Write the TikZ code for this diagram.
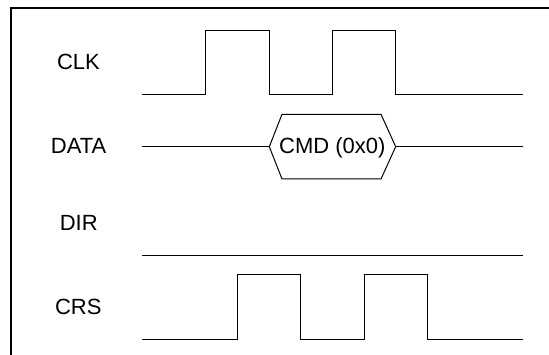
\documentclass[tikz,border=0pt]{standalone}
\usepackage{fontspec}
\setmainfont{Liberation Sans}
\begin{document}
\begin{tikzpicture}[x=1pt,y=-1pt,
  lbl/.style={font=\fontsize{22}{26}\selectfont, inner sep=0pt, anchor=base},
  wave/.style={line width=1pt, line join=miter, line cap=butt},
  frameline/.style={line width=2pt}]
\useasboundingbox (0,0) rectangle (549,355);
% frame (only left and top edges visible)
\coordinate (fbl) at (11,358);
\coordinate (ftl) at (11,8);
\coordinate (ftr) at (552,8);
\draw[frameline] (fbl) -- (ftl) -- (ftr);
% labels
\node[lbl] (clk) at (78.5,70) {CLK};
\node[lbl] (data) at (78.7,154) {DATA};
\node[lbl] (dir) at (78.7,231) {DIR};
\node[lbl] (crs) at (78.3,315) {CRS};
% CLK waveform
\coordinate (clks) at (142,95);
\coordinate (clke) at (522.7,95);
\draw[wave] (clks) -- (205.7,95) -- (205.7,30.7) -- (269.3,30.7) -- (269.3,95)
  -- (332.3,95) -- (332.3,30.7) -- (395.7,30.7) -- (395.7,95) -- (clke);
% DATA waveform
\coordinate (datas) at (142,146.7);
\coordinate (hexl) at (269.3,146.7);
\coordinate (hexr) at (395.7,146.7);
\coordinate (datae) at (522.7,146.7);
\draw[wave] (datas) -- (hexl);
\draw[wave] (hexl) -- (282,114.3) -- (381,114.3) -- (hexr) -- (381,179) -- (282,179) -- cycle;
\draw[wave] (hexr) -- (datae);
\node[lbl] (cmd) at (332.3,154) {CMD (0x0)};
% DIR waveform
\coordinate (dirs) at (142,256);
\coordinate (dire) at (522.7,256);
\draw[wave] (dirs) -- (dire);
% CRS waveform
\coordinate (crss) at (142,339.7);
\coordinate (crse) at (522.7,339.7);
\draw[wave] (crss) -- (237,339.7) -- (237,275) -- (300.7,275) -- (300.7,339.7)
  -- (364,339.7) -- (364,275) -- (427.3,275) -- (427.3,339.7) -- (crse);
\end{tikzpicture}
\end{document}
